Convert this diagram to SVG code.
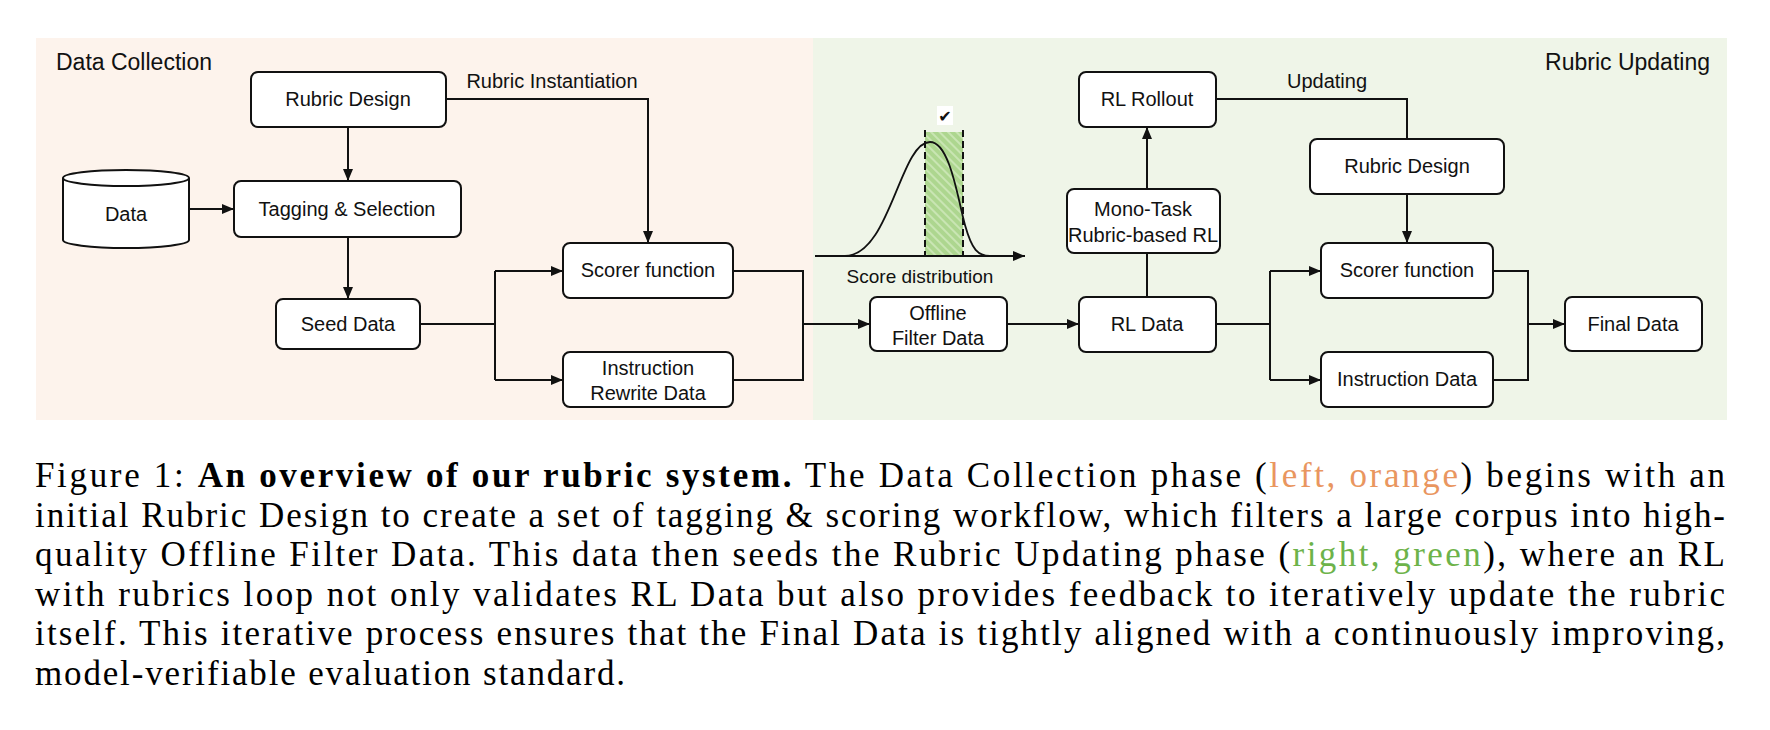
<svg xmlns="http://www.w3.org/2000/svg" width="1770" height="730" viewBox="0 0 1770 730">
<style>
.box{fill:#fff;stroke:#111;stroke-width:2}
.lbl{font-family:"Liberation Sans",Arial,sans-serif;font-size:20px;fill:#111;text-anchor:middle}
.ttl{font-family:"Liberation Sans",Arial,sans-serif;font-size:23px;fill:#111}
.edge{fill:none;stroke:#111;stroke-width:2}
.cap{font-family:"Liberation Serif","Times New Roman",serif;font-size:35px;fill:#000}
</style>
<defs>
<marker id="ah" markerWidth="12" markerHeight="10" refX="12" refY="5" orient="auto" markerUnits="userSpaceOnUse">
<path d="M0,0 L12,5 L0,10 z" fill="#111"/>
</marker>
<pattern id="hatch" width="6" height="6" patternUnits="userSpaceOnUse" patternTransform="rotate(-45)">
<rect width="6" height="6" fill="#add68f"/>
<rect width="2" height="6" fill="#c9e5b3"/>
</pattern>
</defs>
<rect x="36" y="38" width="777" height="382" fill="#fdf3ec"/>
<rect x="813" y="38" width="914" height="382" fill="#eff5e8"/>
<text class="ttl" x="56" y="70">Data Collection</text>
<text class="ttl" x="1710" y="70" text-anchor="end">Rubric Updating</text>

<g id="connectors">
<path class="edge" d="M348,127 V181" marker-end="url(#ah)"/>
<path class="edge" d="M446,99 H648 V243" marker-end="url(#ah)"/>
<path class="edge" d="M189,209 H234" marker-end="url(#ah)"/>
<path class="edge" d="M348,237 V299" marker-end="url(#ah)"/>
<path class="edge" d="M420,324 H495 M495,271 V380"/>
<path class="edge" d="M495,271 H563" marker-end="url(#ah)"/>
<path class="edge" d="M495,380 H563" marker-end="url(#ah)"/>
<path class="edge" d="M733,271 H803 V380 H733"/>
<path class="edge" d="M803,324 H870" marker-end="url(#ah)"/>
<path class="edge" d="M1007,324 H1079" marker-end="url(#ah)"/>
<path class="edge" d="M1147,297 V253"/>
<path class="edge" d="M1147,189 V127" marker-end="url(#ah)"/>
<path class="edge" d="M1216,99 H1407 V139"/>
<path class="edge" d="M1407,194 V243" marker-end="url(#ah)"/>
<path class="edge" d="M1216,324 H1270 M1270,271 V380"/>
<path class="edge" d="M1270,271 H1321" marker-end="url(#ah)"/>
<path class="edge" d="M1270,380 H1321" marker-end="url(#ah)"/>
<path class="edge" d="M1493,271 H1528 V380 H1493"/>
<path class="edge" d="M1528,324 H1565" marker-end="url(#ah)"/>
<text class="lbl" x="552" y="88">Rubric Instantiation</text>
<text class="lbl" x="1327" y="88">Updating</text>
</g>

<g id="score-chart">
<rect x="925" y="132" width="38" height="124" fill="url(#hatch)"/>
<path class="edge" d="M815,256 H1025" marker-end="url(#ah)"/>
<path fill="none" stroke="#111" stroke-width="1.8" d="M845,256 C890,256 900,142 930,142 C950,142 958,200 965,225 C972,250 978,256 990,256"/>
<path fill="none" stroke="#111" stroke-width="2" stroke-dasharray="7,4" d="M925,130 V256 M963,130 V256"/>
<rect x="937" y="106" width="16" height="19" fill="#fff"/>
<text x="945" y="122" text-anchor="middle" style="font-family:'DejaVu Sans',sans-serif;font-size:16px;fill:#111">✔</text>
<text class="lbl" x="920" y="283" style="font-size:19px">Score distribution</text>
</g>

<g id="rubric-design-1"><rect class="box" x="251" y="72" width="195" height="55" rx="7"/><text class="lbl" x="348" y="106">Rubric Design</text></g>
<g id="tagging-selection"><rect class="box" x="234" y="181" width="227" height="56" rx="7"/><text class="lbl" x="347" y="216">Tagging &amp; Selection</text></g>
<g id="data">
<path class="box" d="M63,178 A63,8 0 0 1 189,178 V240 A63,8 0 0 1 63,240 Z"/>
<path class="edge" d="M63,178 A63,8 0 0 0 189,178"/>
<text class="lbl" x="126" y="221">Data</text></g>
<g id="seed-data"><rect class="box" x="276" y="299" width="144" height="50" rx="7"/><text class="lbl" x="348" y="331">Seed Data</text></g>
<g id="scorer-function-1"><rect class="box" x="563" y="243" width="170" height="55" rx="7"/><text class="lbl" x="648" y="277">Scorer function</text></g>
<g id="instruction-rewrite-data"><rect class="box" x="563" y="352" width="170" height="55" rx="7"/><text class="lbl" x="648" y="375">Instruction</text><text class="lbl" x="648" y="400">Rewrite Data</text></g>
<g id="offline-filter-data"><rect class="box" x="870" y="297" width="137" height="54" rx="7"/><text class="lbl" x="938" y="320">Offline</text><text class="lbl" x="938" y="345">Filter Data</text></g>
<g id="rl-data"><rect class="box" x="1079" y="297" width="137" height="55" rx="7"/><text class="lbl" x="1147" y="331">RL Data</text></g>
<g id="mono-task"><rect class="box" x="1067" y="189" width="153" height="64" rx="7"/><text class="lbl" x="1143" y="216">Mono-Task</text><text class="lbl" x="1143" y="242">Rubric-based RL</text></g>
<g id="rl-rollout"><rect class="box" x="1079" y="72" width="137" height="55" rx="7"/><text class="lbl" x="1147" y="106">RL Rollout</text></g>
<g id="rubric-design-2"><rect class="box" x="1310" y="139" width="194" height="55" rx="7"/><text class="lbl" x="1407" y="173">Rubric Design</text></g>
<g id="scorer-function-2"><rect class="box" x="1321" y="243" width="172" height="55" rx="7"/><text class="lbl" x="1407" y="277">Scorer function</text></g>
<g id="instruction-data"><rect class="box" x="1321" y="352" width="172" height="55" rx="7"/><text class="lbl" x="1407" y="386">Instruction Data</text></g>
<g id="final-data"><rect class="box" x="1565" y="297" width="137" height="54" rx="7"/><text class="lbl" x="1633" y="331">Final Data</text></g>

<g id="caption">
<text class="cap" x="35" y="487" textLength="1690" lengthAdjust="spacing">Figure 1:  <tspan font-weight="bold">An overview of our rubric system.</tspan>  The Data Collection phase (<tspan fill="#e9965f">left, orange</tspan>) begins with an</text>
<text class="cap" x="35" y="526.5" textLength="1690" lengthAdjust="spacing">initial Rubric Design to create a set of tagging &amp; scoring workflow, which filters a large corpus into high-</text>
<text class="cap" x="35" y="566" textLength="1690" lengthAdjust="spacing">quality Offline Filter Data.  This data then seeds the Rubric Updating phase (<tspan fill="#6db34a">right, green</tspan>), where an RL</text>
<text class="cap" x="35" y="605.5" textLength="1690" lengthAdjust="spacing">with rubrics loop not only validates RL Data but also provides feedback to iteratively update the rubric</text>
<text class="cap" x="35" y="645" textLength="1690" lengthAdjust="spacing">itself. This iterative process ensures that the Final Data is tightly aligned with a continuously improving,</text>
<text class="cap" x="35" y="684.5" textLength="590" lengthAdjust="spacing">model-verifiable evaluation standard.</text>
</g>
</svg>
